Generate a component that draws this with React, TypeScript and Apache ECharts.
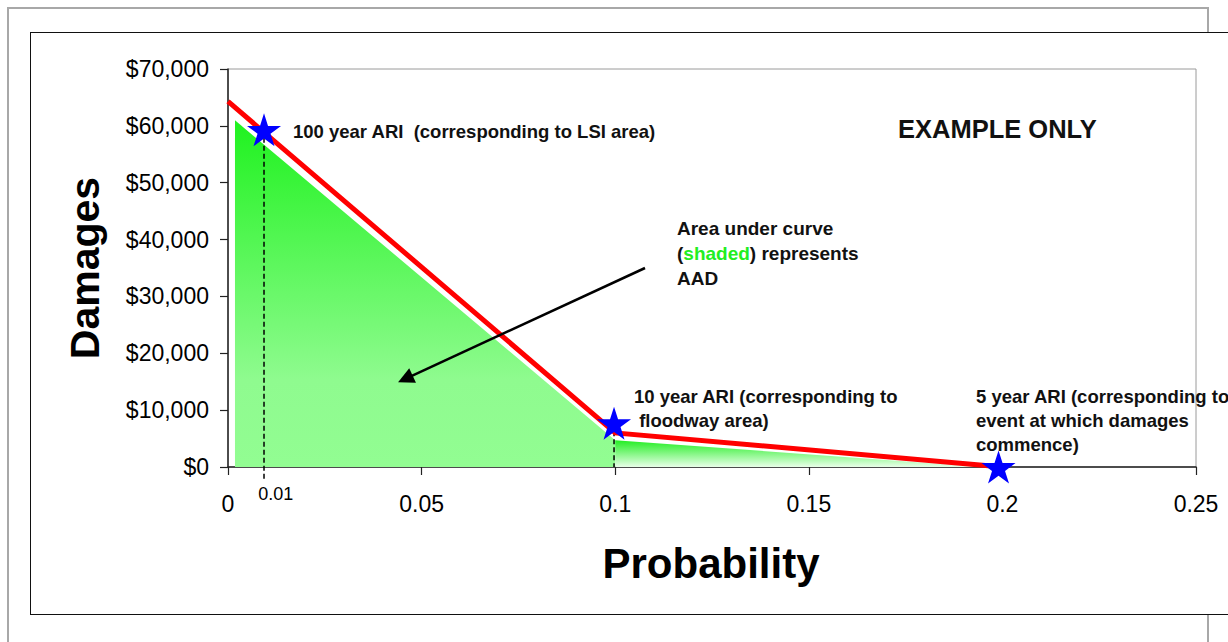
import React, { useEffect, useRef } from "react";
import * as echarts from "echarts";

// ---- data ----
const xTicks = [0, 0.05, 0.1, 0.15, 0.2, 0.25];
const yTicks = [0, 10000, 20000, 30000, 40000, 50000, 60000, 70000];
const damageCurve: [number, number][] = [
  [0, 64300],
  [0.1, 6000],
  [0.2, 0],
];
const shadedMain: [number, number][] = [
  [0.0018, 61000],
  [0.1, 4700],
];
const shadedTail: [number, number][] = [
  [0.1, 4700],
  [0.195, 0],
];
const ariPoints: [number, number][] = [
  [0.0093, 59300],
  [0.0997, 7700],
  [0.199, 0],
];
const guide100: [number, number][] = [
  [0.0093, 59300],
  [0.0093, -2300],
];
const guide10: [number, number][] = [
  [0.0997, 7700],
  [0.0997, 0],
];
const minorTickPoint: [number, number][] = [[0.01, 0]];
const minorTickLabel = "0.01";
const arrowFrom: [number, number] = [0.1077, 35000];
const arrowTo: [number, number] = [0.0458, 15500];

const FONT = '"Liberation Sans", Arial, sans-serif';
const STAR =
  "path://M0,-1L0.2245,-0.309L0.951,-0.309L0.363,0.118L0.588,0.809L0,0.382L-0.588,0.809L-0.363,0.118L-0.951,-0.309L-0.2245,-0.309Z";

export default function App() {
  const ref = useRef<HTMLDivElement>(null);

  useEffect(() => {
    document.body.style.margin = "0";
    if (!ref.current) return;
    const chart = echarts.init(ref.current, undefined, { renderer: "svg" });
    const annot = {
      fontFamily: FONT,
      fontWeight: "bold" as const,
      fontSize: 18.5,
      fill: "#111",
      lineHeight: 25,
      textVerticalAlign: "top" as const,
    };
    chart.setOption({
      animation: false,
      backgroundColor: "transparent",
      grid: {
        left: 228,
        top: 69,
        right: 32,
        bottom: 175,
        show: true,
        borderColor: "#9a9a9a",
        borderWidth: 1,
        backgroundColor: "transparent",
      },
      xAxis: {
        type: "value",
        min: 0,
        max: 0.25,
        interval: 0.05,
        axisLine: { show: true, onZero: false, lineStyle: { color: "#222", width: 1.5 } },
        axisTick: { show: true, inside: false, length: 8, lineStyle: { color: "#222", width: 1.2 } },
        splitLine: { show: false },
        axisLabel: {
          margin: 25,
          fontSize: 23,
          fontFamily: FONT,
          color: "#000",
          formatter: (v: number) => (xTicks.includes(v) ? String(v) : ""),
        },
      },
      yAxis: {
        type: "value",
        min: 0,
        max: 70000,
        interval: 10000,
        axisLine: { show: true, lineStyle: { color: "#222", width: 1.5 } },
        axisTick: { show: true, inside: false, length: 8, lineStyle: { color: "#222", width: 1.2 } },
        splitLine: { show: false },
        axisLabel: {
          margin: 19,
          fontSize: 23,
          fontFamily: FONT,
          color: "#000",
          formatter: (v: number) =>
            yTicks.includes(v) ? "$" + v.toLocaleString("en-US") : "",
        },
      },
      series: [
        {
          type: "line",
          data: shadedMain,
          showSymbol: false,
          symbol: "none",
          lineStyle: { width: 0 },
          z: 1,
          silent: true,
          areaStyle: {
            opacity: 1,
            color: new echarts.graphic.LinearGradient(0, 0, 0, 1, [
              { offset: 0, color: "#1ff21f" },
              { offset: 0.75, color: "#8ffb8f" },
              { offset: 1, color: "#92fd92" },
            ]),
          },
        },
        {
          type: "line",
          data: shadedTail,
          showSymbol: false,
          symbol: "none",
          lineStyle: { width: 0 },
          z: 1,
          silent: true,
          areaStyle: {
            opacity: 1,
            color: new echarts.graphic.LinearGradient(0, 0, 0, 1, [
              { offset: 0, color: "#22ee22" },
              { offset: 1, color: "#e8ffe8" },
            ]),
          },
        },
        {
          type: "line",
          data: guide100,
          showSymbol: false,
          symbol: "none",
          clip: false,
          z: 2,
          lineStyle: { color: "#000", width: 1.5, type: [5, 3] },
        },
        {
          type: "line",
          data: guide10,
          showSymbol: false,
          symbol: "none",
          clip: false,
          z: 2,
          lineStyle: { color: "#000", width: 1.5, type: [5, 3] },
        },
        {
          type: "line",
          data: damageCurve,
          showSymbol: false,
          symbol: "none",
          z: 3,
          lineStyle: { color: "#ff0000", width: 5, join: "miter" },
          markLine: {
            silent: true,
            animation: false,
            symbol: ["none", "triangle"],
            symbolSize: 16,
            label: { show: false },
            lineStyle: { color: "#000", width: 2.5, type: "solid" },
            data: [[{ coord: arrowFrom }, { coord: arrowTo }]],
          },
        },
        {
          type: "scatter",
          data: ariPoints,
          symbol: STAR,
          symbolSize: [34, 33],
          z: 4,
          itemStyle: { color: "#0000ff", opacity: 1 },
        },
        {
          type: "scatter",
          data: minorTickPoint,
          symbolSize: 0,
          clip: false,
          z: 4,
          itemStyle: { opacity: 1, color: "#000" },
          label: {
            show: true,
            position: "inside",
            offset: [9, 26.5],
            formatter: () => minorTickLabel,
            fontFamily: FONT,
            fontSize: 18,
            color: "#000",
            opacity: 1,
          },
        },
      ],
      graphic: [
        {
          type: "text",
          x: 85,
          y: 268,
          rotation: Math.PI / 2,
          style: {
            text: "Damages",
            fontFamily: FONT,
            fontWeight: "bold",
            fontSize: 41,
            fill: "#000",
            textAlign: "center",
            textVerticalAlign: "middle",
          },
        },
        {
          type: "text",
          x: 711,
          y: 563,
          style: {
            text: "Probability",
            fontFamily: FONT,
            fontWeight: "bold",
            fontSize: 42,
            fill: "#000",
            textAlign: "center",
            textVerticalAlign: "middle",
          },
        },
        {
          type: "text",
          x: 898,
          y: 116,
          style: {
            text: "EXAMPLE ONLY",
            fontFamily: FONT,
            fontWeight: "bold",
            fontSize: 25.5,
            fill: "#111",
            textVerticalAlign: "top",
          },
        },
        {
          type: "text",
          x: 293,
          y: 119,
          style: { ...annot, text: "100 year ARI  (corresponding to LSI area)" },
        },
        {
          type: "text",
          x: 677,
          y: 216,
          style: {
            ...annot,
            fontSize: 19,
            text: "Area under curve\n({g|shaded}) represents\nAAD",
            rich: {
              g: {
                fontFamily: FONT,
                fontWeight: "bold",
                fontSize: 19,
                fill: "#22ee22",
                lineHeight: 25,
              },
            },
          },
        },
        {
          type: "text",
          x: 634,
          y: 384,
          style: { ...annot, lineHeight: 24, text: "10 year ARI (corresponding to\n floodway area)" },
        },
        {
          type: "text",
          x: 976,
          y: 384,
          style: {
            ...annot,
            lineHeight: 24,
            text: "5 year ARI (corresponding to\nevent at which damages\ncommence)",
          },
        },
      ],
    });
    return () => chart.dispose();
  }, []);

  return (
    <div style={{ position: "relative", width: 1228, height: 642, overflow: "hidden", background: "#fff" }}>
      <div
        style={{
          position: "absolute",
          left: 7,
          top: 7,
          width: 1202,
          height: 660,
          border: "2px solid #a8a8a8",
          boxSizing: "border-box",
        }}
      />
      <div
        style={{
          position: "absolute",
          left: 30,
          top: 32,
          width: 1240,
          height: 583,
          border: "1.5px solid #111",
          background: "#fff",
          boxSizing: "border-box",
        }}
      />
      <div ref={ref} style={{ position: "absolute", left: 0, top: 0, width: 1228, height: 642 }} />
    </div>
  );
}
